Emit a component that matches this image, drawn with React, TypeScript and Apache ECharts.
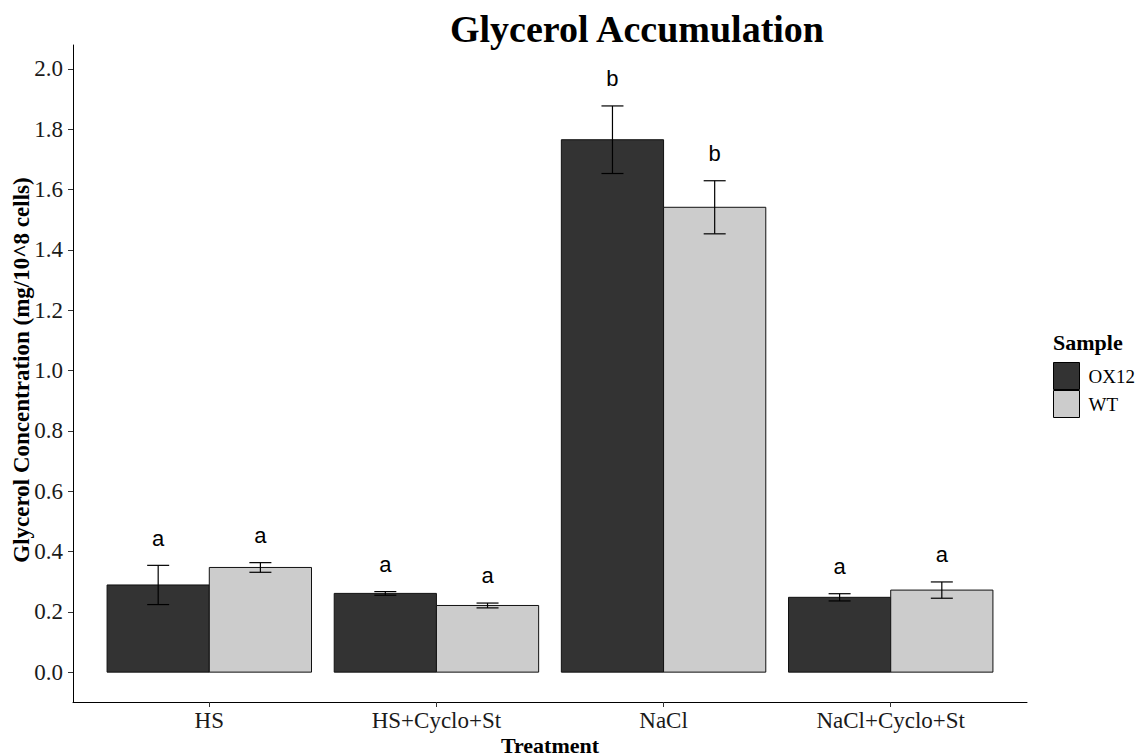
import React, { useEffect, useRef } from "react";
import * as echarts from "echarts";

const categories = ["HS", "HS+Cyclo+St", "NaCl", "NaCl+Cyclo+St"];
const ox12Mean = [0.289, 0.261, 1.765, 0.248];
const ox12Se = [0.065, 0.006, 0.112, 0.012];
const ox12Letters = ["a", "a", "b", "a"];
const wtMean = [0.347, 0.221, 1.541, 0.272];
const wtSe = [0.016, 0.008, 0.088, 0.027];
const wtLetters = ["a", "a", "b", "a"];
const yTicks = [0, 0.2, 0.4, 0.6, 0.8, 1.0, 1.2, 1.4, 1.6, 1.8, 2.0];
const letterOffset = 0.09;

const SERIF = '"Liberation Serif", "Times New Roman", serif';
const SANS = '"Liberation Sans", Arial, sans-serif';

function makeSeries(name: string, means: number[], ses: number[], letters: string[], color: string, dodge: number) {
  const data = categories.map((_, i) => [i + 1, means[i], ses[i], letters[i]]);
  return {
    type: "custom",
    name,
    itemStyle: { color },
    encode: { x: 0, y: 1 },
    data,
    renderItem: (params: any, api: any) => {
      const cx = api.value(0) + dodge;
      const m = api.value(1);
      const se = api.value(2);
      const letter = data[params.dataIndex][3] as string;
      const tl = api.coord([cx - 0.225, m]);
      const br = api.coord([cx + 0.225, 0]);
      const top = api.coord([cx, m + se]);
      const bot = api.coord([cx, m - se]);
      const capHalf = 11;
      const lab = api.coord([cx, m + se + letterOffset]);
      const ls = { stroke: "#000", lineWidth: 1.2 };
      return {
        type: "group",
        children: [
          {
            type: "rect",
            shape: { x: tl[0], y: tl[1], width: br[0] - tl[0], height: br[1] - tl[1] },
            style: { fill: color, stroke: "#111", lineWidth: 1 },
          },
          { type: "line", shape: { x1: top[0], y1: top[1], x2: bot[0], y2: bot[1] }, style: ls },
          { type: "line", shape: { x1: top[0] - capHalf, y1: top[1], x2: top[0] + capHalf, y2: top[1] }, style: ls },
          { type: "line", shape: { x1: bot[0] - capHalf, y1: bot[1], x2: bot[0] + capHalf, y2: bot[1] }, style: ls },
          {
            type: "text",
            x: lab[0],
            y: lab[1],
            style: {
              text: letter,
              font: `22px ${SANS}`,
              fill: "#000",
              align: "center",
              verticalAlign: "middle",
              textAlign: "center",
              textVerticalAlign: "middle",
            },
          },
        ],
      };
    },
  };
}

export default function App() {
  const ref = useRef<HTMLDivElement>(null);
  useEffect(() => {
    if (!ref.current) return;
    const chart = echarts.init(ref.current, undefined, { renderer: "svg" });
    const option: any = {
      animation: false,
      backgroundColor: "#ffffff",
      grid: { left: 73, right: 117, top: 45, bottom: 54, containLabel: false, outerBoundsMode: "none" },
      xAxis: {
        type: "value",
        min: 0.4,
        max: 4.6,
        splitLine: { show: false },
        axisLine: { show: true, onZero: false, lineStyle: { color: "#000", width: 1 } },
        axisTick: { show: true, length: 5, customValues: [1, 2, 3, 4], lineStyle: { color: "#333" } },
        axisLabel: {
          customValues: [1, 2, 3, 4],
          formatter: (v: number) => categories[Math.round(v) - 1] ?? "",
          fontFamily: SERIF,
          fontSize: 23,
          color: "#1a1a1a",
          margin: 7,
        },
      },
      yAxis: {
        type: "value",
        min: -0.099,
        max: 2.079,
        splitLine: { show: false },
        axisLine: { show: true, onZero: false, lineStyle: { color: "#000", width: 1 } },
        axisTick: { show: true, length: 5, customValues: yTicks, lineStyle: { color: "#333" } },
        axisLabel: {
          customValues: yTicks,
          formatter: (v: number) => v.toFixed(1),
          fontFamily: SERIF,
          fontSize: 23,
          color: "#1a1a1a",
          margin: 10,
        },
      },
      legend: {
        orient: "vertical",
        left: 1053,
        top: 362,
        padding: 0,
        itemWidth: 26,
        itemHeight: 27,
        itemGap: 0,
        textStyle: { fontFamily: SERIF, fontSize: 19, color: "#000", padding: [0, 0, 0, 4] },
        data: [
          { name: "OX12", icon: "rect", itemStyle: { color: "#333333", borderColor: "#000", borderWidth: 1 } },
          { name: "WT", icon: "rect", itemStyle: { color: "#cccccc", borderColor: "#000", borderWidth: 1 } },
        ],
      },
      graphic: [
        {
          type: "text",
          x: 637,
          y: 29,
          style: {
            text: "Glycerol Accumulation",
            font: `bold 38px ${SERIF}`,
            fill: "#000",
            textAlign: "center",
            textVerticalAlign: "middle",
            align: "center",
            verticalAlign: "middle",
          },
        },
        {
          type: "text",
          x: 550,
          y: 745,
          style: {
            text: "Treatment",
            font: `bold 22px ${SERIF}`,
            fill: "#000",
            textAlign: "center",
            textVerticalAlign: "middle",
            align: "center",
            verticalAlign: "middle",
          },
        },
        {
          type: "text",
          x: 21,
          y: 370,
          rotation: Math.PI / 2,
          style: {
            text: "Glycerol Concentration (mg/10^8 cells)",
            font: `bold 23px ${SERIF}`,
            fill: "#000",
            textAlign: "center",
            textVerticalAlign: "middle",
            align: "center",
            verticalAlign: "middle",
          },
        },
        {
          type: "text",
          x: 1053,
          y: 342,
          style: {
            text: "Sample",
            font: `bold 22px ${SERIF}`,
            fill: "#000",
            textAlign: "left",
            textVerticalAlign: "middle",
            align: "left",
            verticalAlign: "middle",
          },
        },
      ],
      series: [
        makeSeries("OX12", ox12Mean, ox12Se, ox12Letters, "#333333", -0.225),
        makeSeries("WT", wtMean, wtSe, wtLetters, "#cccccc", 0.225),
      ],
    };
    chart.setOption(option);
    return () => chart.dispose();
  }, []);
  return <div ref={ref} style={{ position: "absolute", left: 0, top: 0, width: 1144, height: 756 }} />;
}
